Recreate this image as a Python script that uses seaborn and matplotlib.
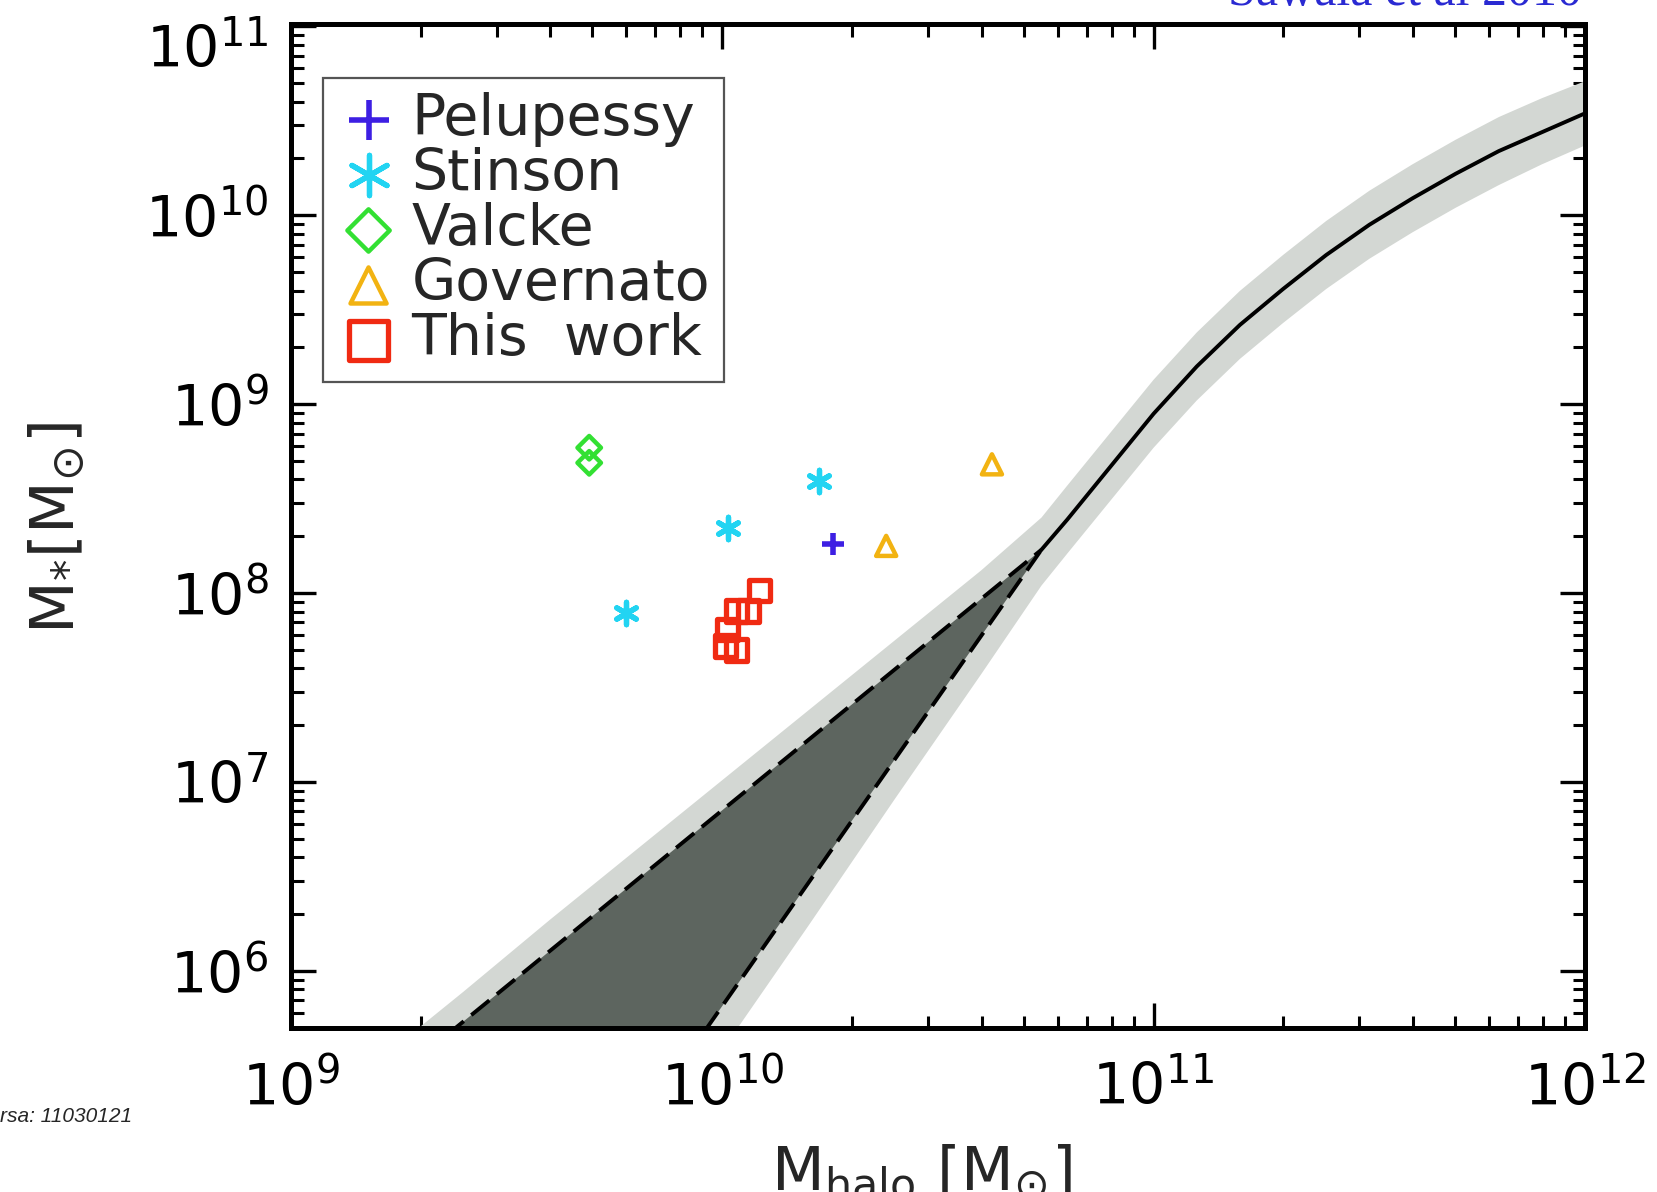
import numpy as np
import matplotlib
matplotlib.use("Agg")
import matplotlib.pyplot as plt
from matplotlib.ticker import LogLocator, NullFormatter
from matplotlib.transforms import ScaledTranslation
import seaborn as sns

# ---------------- data ----------------
pel_x = [1.81e10]
pel_y = [1.82e8]
sti_x = [5.99e9, 1.03e10, 1.68e10]
sti_y = [7.9e7, 2.22e8, 3.92e8]
val_x = [4.92e9, 4.92e9]
val_y = [5.89e8, 4.90e8]
gov_x = [2.40e10, 4.22e10]
gov_y = [1.78e8, 4.81e8]
this_x = [1.22e10, 1.15e10, 1.08e10, 1.03e10, 1.02e10, 1.08e10]
this_y = [1.03e8, 8.06e7, 8.06e7, 6.44e7, 5.26e7, 5.01e7]

# abundance-matching relation (solid line), in log10 units
solid_log_halo = [10.74, 10.80, 10.90, 11.00, 11.10, 11.20, 11.30, 11.40,
                  11.50, 11.60, 11.70, 11.80, 11.90, 12.00]
solid_log_star = [8.23, 8.39, 8.67, 8.95, 9.20, 9.42, 9.61, 9.79,
                  9.95, 10.09, 10.22, 10.34, 10.44, 10.54]

# light grey scatter band (log10)
band_log_halo = [9.2, 9.4, 9.6, 9.8, 10.0, 10.2, 10.4, 10.6, 10.74, 10.80, 10.90,
                 11.00, 11.10, 11.20, 11.30, 11.40, 11.50, 11.60, 11.70, 11.80, 11.90, 12.00]
band_log_hi = [5.52, 5.89, 6.27, 6.64, 7.01, 7.38, 7.75, 8.12, 8.40, 8.57, 8.85,
               9.13, 9.38, 9.60, 9.79, 9.97, 10.13, 10.27, 10.40, 10.52, 10.62, 10.71]
band_log_lo = [2.92, 3.59, 4.25, 4.92, 5.58, 6.24, 6.91, 7.57, 8.04, 8.21, 8.49,
               8.77, 9.02, 9.24, 9.43, 9.61, 9.77, 9.91, 10.04, 10.16, 10.27, 10.37]

# dashed extrapolations (log10)
dash_hi_log_halo = [9.30, 10.74]
dash_hi_log_star = [5.546, 8.23]
dash_lo_log_halo = [9.916, 10.74]
dash_lo_log_star = [5.54, 8.23]

x_ticks = [1e9, 1e10, 1e11, 1e12]
y_ticks = [1e6, 1e7, 1e8, 1e9, 1e10, 1e11]

solid_x = 10 ** np.array(solid_log_halo)
solid_y = 10 ** np.array(solid_log_star)
band_x = 10 ** np.array(band_log_halo)
band_hi = 10 ** np.array(band_log_hi)
band_lo = 10 ** np.array(band_log_lo)
dash_hi_x = 10 ** np.array(dash_hi_log_halo)
dash_hi_y = 10 ** np.array(dash_hi_log_star)
dash_lo_x = 10 ** np.array(dash_lo_log_halo)
dash_lo_y = 10 ** np.array(dash_lo_log_star)

# ---------------- style ----------------
sns.set_theme(style="ticks")
plt.rcParams["font.family"] = ["DejaVu Sans"]
plt.rcParams["mathtext.fontset"] = "dejavusans"

fig = plt.figure(figsize=(16.57, 11.92), dpi=100)
ax = fig.add_axes([0.1754, 0.1376, 0.7812, 0.8423])
ax.set_xscale("log")
ax.set_yscale("log")

light = "#d3d7d3"
dark = "#5d655f"

ax.fill_between(band_x, band_lo, band_hi, color=light, linewidth=0, zorder=1)
ax.fill(np.r_[dash_hi_x, dash_lo_x[::-1]], np.r_[dash_hi_y, dash_lo_y[::-1]],
        color=dark, linewidth=0, zorder=2)
sns.lineplot(x=dash_hi_x, y=dash_hi_y, ax=ax, color="black", linewidth=2.8,
             linestyle=(0, (6, 2.5)), sort=False, zorder=3)
sns.lineplot(x=dash_lo_x, y=dash_lo_y, ax=ax, color="black", linewidth=2.8,
             linestyle=(0, (6, 2.5)), sort=False, zorder=3)
sns.lineplot(x=solid_x, y=solid_y, ax=ax, color="black", linewidth=2.8, sort=False, zorder=3)

ms = 260
lw = 3.2
sns.scatterplot(x=pel_x, y=pel_y, ax=ax, marker="+", s=ms, color="#3d1fe3",
                edgecolor="#3d1fe3", linewidth=lw + 0.8, label="Pelupessy", zorder=5)
sns.scatterplot(x=sti_x, y=sti_y, ax=ax, marker=(6, 2, 0), s=ms, color="#22d4f2",
                edgecolor="#22d4f2", linewidth=lw + 0.6, label="Stinson", zorder=5)
sns.scatterplot(x=val_x, y=val_y, ax=ax, marker="D", s=ms * 0.55, facecolor="none",
                edgecolor="#33e033", linewidth=lw, label="Valcke", zorder=5)
sns.scatterplot(x=gov_x, y=gov_y, ax=ax, marker="^", s=ms * 0.8, facecolor="none",
                edgecolor="#f2b312", linewidth=lw, label="Governato", zorder=5)
sns.scatterplot(x=this_x, y=this_y, ax=ax, marker="s", s=ms * 0.9, facecolor="none",
                edgecolor="#f02a12", linewidth=lw + 0.6, label="This  work", zorder=5)

ax.set_xlim(1e9, 1e12)
ax.set_ylim(5.0e5, 1.03e11)
ax.set_xticks(x_ticks)
ax.set_yticks(y_ticks)
ax.xaxis.set_minor_locator(LogLocator(base=10, subs=np.arange(2, 10)))
ax.yaxis.set_minor_locator(LogLocator(base=10, subs=np.arange(2, 10)))
ax.xaxis.set_minor_formatter(NullFormatter())
ax.yaxis.set_minor_formatter(NullFormatter())

ax.tick_params(which="both", direction="in", top=True, right=True, colors="black")
ax.tick_params(which="major", length=18, width=2.4, labelsize=41)
ax.tick_params(which="minor", length=9, width=2.2)
ax.tick_params(axis="x", which="major", pad=24)
ax.tick_params(axis="y", which="major", pad=16)
for sp in ax.spines.values():
    sp.set_linewidth(3.6)
    sp.set_color("black")
ax.set_xlabel("")
ax.set_ylabel("")
ax.set_facecolor("white")

# top y tick label sits a little lower, as in the original
top_lab = ax.yaxis.get_major_ticks()[-1].label1
top_lab.set_transform(top_lab.get_transform() + ScaledTranslation(0, -14 / 72, fig.dpi_scale_trans))

leg = ax.legend(loc="upper left", bbox_to_anchor=(0.025, 0.946), borderaxespad=0,
                fontsize=41, frameon=True, fancybox=False, framealpha=1,
                edgecolor="#555555", handlelength=1.1, handletextpad=0.2,
                labelspacing=0.0, borderpad=0.25, markerscale=1.8)
leg.get_frame().set_linewidth(1.6)

fig.text(58 / 1657, 1 - 528 / 1192, r"M$_{*}$[M$_{\odot}$]", rotation=90,
         ha="center", va="center", fontsize=44)
fig.text(0.556, 0.041, r"M$_{\rm halo}$ [M$_{\odot}$]", ha="center", va="top", fontsize=44)
fig.text(1405 / 1657, 1 - 5 / 1192, "Sawala et al 2010", ha="center", va="baseline",
         fontsize=36, color="#2a2ad2", family=["Liberation Serif", "DejaVu Serif"])
fig.text(0.0, 1 - 1122 / 1192, "rsa: 11030121", ha="left", va="baseline",
         fontsize=15, style="italic", family=["Liberation Sans", "DejaVu Sans"])

fig.savefig("out.png", dpi=100, facecolor="white")
